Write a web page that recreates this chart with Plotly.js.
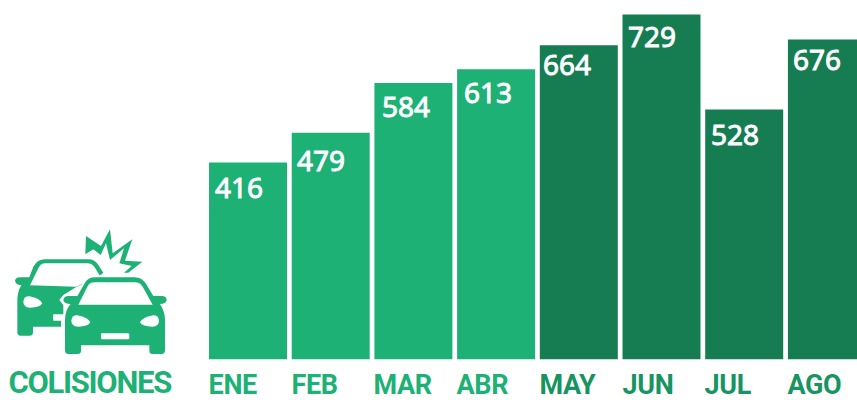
<!DOCTYPE html>
<html><head><meta charset="utf-8">
<script src="https://cdn.plot.ly/plotly-3.0.1.min.js"></script>
<style>html,body{margin:0;padding:0;background:#fff}#c{width:857px;height:400px}</style>
</head><body><div id="c"></div>
<script>
const months = ["ENE","FEB","MAR","ABR","MAY","JUN","JUL","AGO"];
const values = [416,479,584,613,664,729,528,676];
const LIGHT = "#1DB176", DARK = "#167C52";
const barColors = [LIGHT,LIGHT,LIGHT,LIGHT,DARK,DARK,DARK,DARK];
const labelColors = [LIGHT,LIGHT,LIGHT,LIGHT,"#179462","#179462","#179462","#179462"];
const labelDx = [6,5,8,7,3,5,6,5];
const labelDy = [24,27,23,23,19,22,24,19];
const burst = "M258,48 L303,78 L330,28 L338,100 L397,58 L375,122 L427,125 L385,158 L372,158 L395,138 L358,130 L372,85 L330,120 L318,70 L302,105 L280,88 L256,103 Z";
const rearCar = "M45,182 Q47,172 60,172 L88,172 L100,140 Q112,118 135,118 L265,118 Q285,118 295,135 L310,158 L290,175 L230,200 L190,225 L178,240 L190,255 L190,283 L160,283 Q158,292 160,302 L183,302 L183,320 L99,320 L99,337 Q99,347 89,347 L62,347 Q52,347 52,337 L52,240 Q52,215 64,196 Q47,194 45,182 Z";
const rearWindow = "M90,196 L115,145 Q122,130 135,130 L262,130 Q275,130 283,140 L300,168 L228,200 Z";
const frontCar = "M232,228 L255,188 Q265,172 285,172 L405,172 Q425,172 437,190 L460,228 L488,228 Q500,230 500,240 Q498,252 480,252 Q495,275 495,300 L495,390 Q495,402 485,402 L458,402 Q448,402 448,392 L448,376 L243,376 L243,392 Q243,402 233,402 L205,402 Q195,402 195,390 L195,300 Q195,270 212,252 Q192,252 190,240 Q192,228 205,228 Z";
const frontWindow = "M235,254 L262,200 Q268,187 285,187 L405,187 Q420,187 428,200 L458,254 Z";
const lights = [
 "M70,245 Q72,228 88,229 Q120,235 127,250 Q120,263 90,263 Q70,262 70,245 Z",
 "M214,302 Q216,285 232,286 Q264,292 271,307 Q264,320 234,320 Q214,319 214,302 Z",
 "M477,302 Q475,285 459,286 Q427,292 420,307 Q427,320 457,320 Q477,319 477,302 Z",
 "M306,340 L384,340 Q388,340 388,344 L388,354 Q388,358 384,358 L306,358 Q303,358 303,354 L303,344 Q303,340 306,340 Z"
];
const toPaper = p => p.replace(/(-?[\d.]+),(-?[\d.]+)/g, (m,a,b) =>
  ((+a/3)/857).toFixed(5)+","+(1-(220+ +b/3)/400).toFixed(5));
const shp = (path,fill,line,w) => ({type:"path",xref:"paper",yref:"paper",path:toPaper(path),
  fillcolor:fill,line:{color:line||fill,width:w||0},layer:"above"});
const shapes = [
  shp(burst,LIGHT), shp(rearCar,LIGHT), shp(rearWindow,"#fff"),
  shp(frontCar,"#fff","#fff",4), shp(frontCar,LIGHT), shp(frontWindow,"#fff"),
  ...lights.map(l=>shp(l,"#fff"))
];
const sans = "Noto Sans, sans-serif", cond = "Roboto, sans-serif";
const annotations = [];
months.forEach((m,i)=>{
  annotations.push({x:m,y:values[i],xref:"x",yref:"y",text:String(values[i]),showarrow:false,
    xanchor:"left",yanchor:"middle",xshift:-39+labelDx[i]-2,yshift:-labelDy[i],
    font:{family:sans,size:28,color:"#fff"}});
  annotations.push({x:m,y:0,xref:"x",yref:"paper",text:m,showarrow:false,xanchor:"left",yanchor:"bottom",
    xshift:-42,yshift:-3,font:{family:cond,size:27,color:labelColors[i],weight:700}});
});
annotations.push({x:89.5/857,y:0,xref:"paper",yref:"paper",text:"COLISIONES",showarrow:false,xanchor:"center",yanchor:"bottom",
  yshift:-3,font:{family:cond,size:31,color:LIGHT,weight:700}});
Plotly.newPlot("c",[{type:"bar",x:months,y:values,marker:{color:barColors,line:{width:0}},hoverinfo:"x+y"}],{
  width:857,height:400,margin:{l:0,r:0,t:0,b:0},paper_bgcolor:"#fff",plot_bgcolor:"#fff",
  showlegend:false,bargap:0.057,
  xaxis:{type:"category",categoryorder:"array",categoryarray:months,range:[-2.999,7.364],visible:false,domain:[0,1],fixedrange:true},
  yaxis:{range:[0,759.5],visible:false,domain:[40.5/400,1],fixedrange:true},
  shapes,annotations
},{displayModeBar:false,staticPlot:true}).then(()=>{
  document.querySelectorAll(".annotation text").forEach(t=>{
    const s = t.textContent;
    if(s==="COLISIONES") t.style.letterSpacing = "-1.3px";
    else if(/[A-Z]/.test(s)) t.style.letterSpacing = "-0.4px";
    else { t.style.stroke = "#fff"; t.style.strokeWidth = "0.9px"; }
  });
});
</script></body></html>
